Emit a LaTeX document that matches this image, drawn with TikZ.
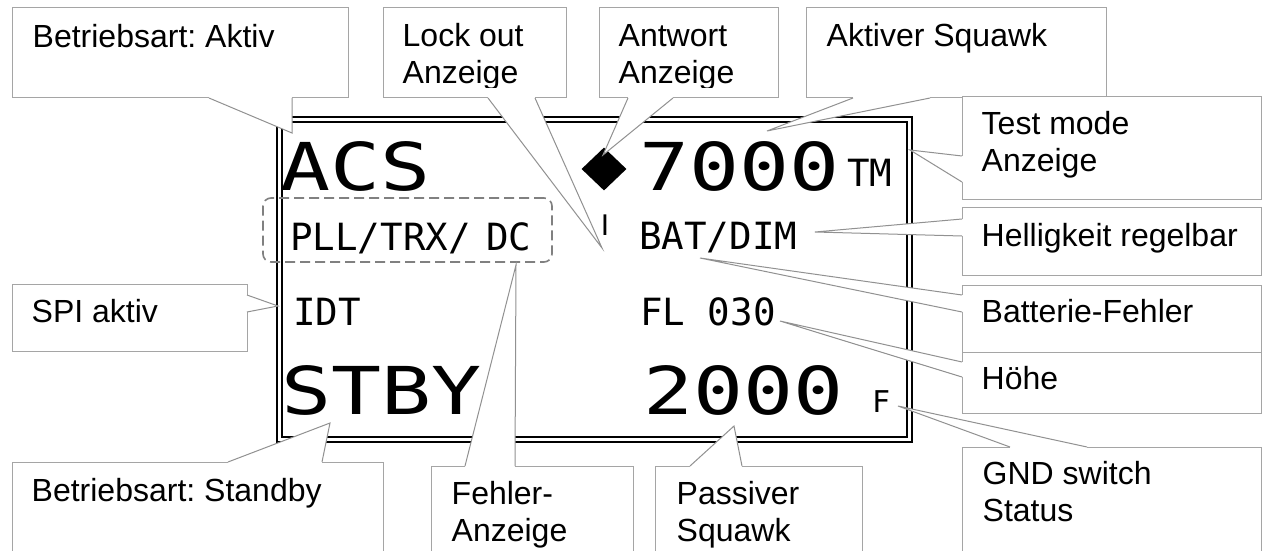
\documentclass[tikz,border=0pt]{standalone}
\usepackage{fontspec}
\usetikzlibrary{shapes.geometric}
\newfontfamily\callfont{Liberation Sans}
\newfontfamily\dispfont{DejaVu Sans Mono}
\newfontfamily\dispbigfont[FakeStretch=1.26]{DejaVu Sans Mono}
\definecolor{callgray}{RGB}{165,165,165}
\definecolor{ptrgray}{RGB}{145,145,145}
\definecolor{dashgray}{RGB}{128,128,128}
\newcommand{\cst}{\rule{0pt}{30pt}}
\tikzset{
  callbox/.style={draw=callgray, fill=white, line width=1pt, inner sep=0pt},
  calltext/.style={anchor=north west, inner sep=0pt, align=left,
    font=\callfont\fontsize{32}{36.5}\selectfont},
  ptrline/.style={draw=ptrgray, line width=1pt},
  bigtxt/.style={anchor=base west, inner sep=0pt, font=\dispbigfont\fontsize{66}{70}\selectfont},
  midtxt/.style={anchor=base west, inner sep=0pt, font=\dispfont\fontsize{37.5}{40}\selectfont},
}
% pointer of a callout: base point, tip, base point
\newcommand{\callptr}[3]{%
  \fill[white] #1 -- #2 -- #3 -- cycle;
  \draw[white, line width=2pt] #1 -- #3;
  \draw[ptrline] #1 -- #2 -- #3;}
\frenchspacing
\begin{document}
\begin{tikzpicture}[x=1pt,y=-1pt]
\fill[white] (0,0) rectangle (1262,551);
\clip (0,0) rectangle (1262,551);
% display
\node[draw, line width=2.4pt, minimum width=635, minimum height=325, inner sep=0pt] (dispOut) at (594.5,279.5) {};
\node[draw, line width=1.2pt, minimum width=625, minimum height=315, inner sep=0pt] (dispIn) at (594.5,279.5) {};
\node[draw=dashgray, dashed, dash pattern=on 10pt off 5pt, line width=1.6pt, rounded corners=8pt,
  minimum width=289, minimum height=64, inner sep=0pt] (errBox) at (407.5,230) {};
\node[bigtxt] (acs) at (280,190) {ACS};
\node[bigtxt] (sqAct) at (639,190) {7000};
\node[midtxt] (tm) at (847,186) {TM};
\node[midtxt] (pll) at (290,250) {PLL/TRX/\hspace{-7pt} DC};
\node[midtxt] (bat) at (639,249) {BAT/DIM};
\node[midtxt] (idt) at (293,325) {IDT};
\node[midtxt] (fl) at (640,325) {FL 030};
\node[bigtxt] (stby) at (281,414) {STBY};
\node[bigtxt] (sqPas) at (643,414) {2000};
\node[anchor=base west, inner sep=0pt, font=\dispfont\fontsize{30}{32}\selectfont] (gnd) at (872,412) {F};
\node[diamond, fill=black, minimum width=45, minimum height=43, inner sep=0pt] (resp) at (604,169) {};
\node[anchor=base, inner sep=0pt, font=\callfont\fontsize{30}{32}\selectfont] (lock) at (605,235) {I};
% pointer tips
\coordinate (tAktiv) at (292,133);
\coordinate (tLock) at (602,248);
\coordinate (tAntw) at (603,155);
\coordinate (tAktSq) at (767,131);
\coordinate (tTest) at (910,150);
\coordinate (tHell) at (815,232);
\coordinate (tBatt) at (700,258);
\coordinate (tHoehe) at (780,321);
\coordinate (tGnd) at (898,406);
\coordinate (tSpi) at (278,306);
\coordinate (tStby) at (330,423);
\coordinate (tFehl) at (516,265);
\coordinate (tPass) at (734,426);
% callouts
\node[callbox, minimum width=336, minimum height=90] (cAktiv) at (180,53) {};
\callptr{(209,98)}{(tAktiv)}{(292,98)}
\node[calltext] (lAktiv) at ([shift={(21,10)}]cAktiv.north west) {\cst Betriebsart: Aktiv};
\node[callbox, minimum width=183, minimum height=90] (cLock) at (474.5,53) {};
\callptr{(488,98)}{(tLock)}{(535,98)}
\begin{scope}
\clip (383,8) rectangle (566,88);
\node[calltext] (lLock) at ([shift={(20,9)}]cLock.north west) {\cst Lock out\\Anzeige};
\end{scope}
\node[callbox, minimum width=179, minimum height=90] (cAntw) at (688.5,53) {};
\callptr{(628,98)}{(tAntw)}{(673,98)}
\begin{scope}
\clip (599,8) rectangle (778,88);
\node[calltext] (lAntw) at ([shift={(20,9)}]cAntw.north west) {\cst Antwort\\Anzeige};
\end{scope}
\node[callbox, minimum width=300, minimum height=90] (cAktSq) at (956,53) {};
\callptr{(853,98)}{(tAktSq)}{(930,98)}
\node[calltext] (lAktSq) at ([shift={(21,9)}]cAktSq.north west) {\cst Aktiver Squawk};
\node[callbox, minimum width=299, minimum height=102] (cTest) at (1111.5,148) {};
\callptr{(962,156)}{(tTest)}{(962,182)}
\node[calltext] (lTest) at ([shift={(20,8)}]cTest.north west) {\cst Test mode\\Anzeige};
\node[callbox, minimum width=299, minimum height=68] (cHell) at (1111.5,241) {};
\callptr{(962,219)}{(tHell)}{(962,236)}
\node[calltext] (lHell) at ([shift={(20,10)}]cHell.north west) {\cst Helligkeit regelbar};
\node[callbox, minimum width=299, minimum height=67] (cBatt) at (1111.5,318.5) {};
\callptr{(962,295)}{(tBatt)}{(962,312)}
\node[calltext] (lBatt) at ([shift={(20,8)}]cBatt.north west) {\cst Batterie-Fehler};
\node[callbox, minimum width=299, minimum height=61] (cHoehe) at (1111.5,382.5) {};
\callptr{(962,362)}{(tHoehe)}{(962,377)}
\node[calltext] (lHoehe) at ([shift={(20,8)}]cHoehe.north west) {\cst Höhe};
\node[callbox, minimum width=299, minimum height=153] (cGnd) at (1111.5,523.5) {};
\callptr{(1010,447)}{(tGnd)}{(1087,447)}
\node[calltext] (lGnd) at ([shift={(21,8)}]cGnd.north west) {\cst GND switch\\Status};
\node[callbox, minimum width=235, minimum height=67] (cSpi) at (129.5,317.5) {};
\callptr{(247,295)}{(tSpi)}{(247,312)}
\node[calltext] (lSpi) at ([shift={(20,9)}]cSpi.north west) {\cst SPI aktiv};
\node[callbox, minimum width=371, minimum height=138] (cStby) at (197.5,531) {};
\callptr{(228,462)}{(tStby)}{(322,462)}
\node[calltext] (lStby) at ([shift={(20,10)}]cStby.north west) {\cst Betriebsart: Standby};
\node[callbox, minimum width=202, minimum height=134] (cFehl) at (532,533) {};
\callptr{(465,466)}{(tFehl)}{(515,466)}
\node[calltext] (lFehl) at ([shift={(21,9)}]cFehl.north west) {\cst Fehler-\\Anzeige};
\node[callbox, minimum width=207, minimum height=134] (cPass) at (758.5,533) {};
\callptr{(690,466)}{(tPass)}{(742,466)}
\node[calltext] (lPass) at ([shift={(22,9)}]cPass.north west) {\cst Passiver\\Squawk};
\end{tikzpicture}
\end{document}
